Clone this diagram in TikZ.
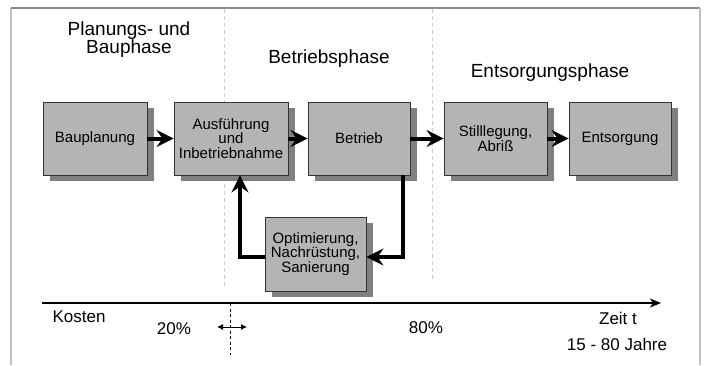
\documentclass[tikz,border=0pt]{standalone}
\usepackage{fontspec}
\setmainfont{Liberation Sans}
\usetikzlibrary{arrows.meta,shadows}
\definecolor{boxfill}{HTML}{B4B4B4}
\definecolor{shadowc}{HTML}{808080}
\definecolor{boxline}{HTML}{333333}
\tikzset{
  stepbox/.style={draw=boxline, line width=0.9pt, fill=boxfill, align=center,
    inner sep=0.5pt, font=\fontsize{15}{14.5}\selectfont,
    drop shadow={shadow xshift=7pt, shadow yshift=-6pt, fill=shadowc, opacity=1}},
  flow/.style={line width=4pt, -{Stealth[length=17pt,width=17pt,inset=6pt]}},
  phase/.style={align=center, font=\fontsize{19}{18}\selectfont},
  lbl/.style={font=\fontsize{17}{17}\selectfont},
  sep/.style={draw=black!20, line width=1pt, dash pattern=on 4pt off 3pt},
  frame/.style={line width=1.5pt}
}
\begin{document}
\begin{tikzpicture}[x=1pt,y=-1pt]
\useasboundingbox (0,0) rectangle (706,365);
% frame
\draw[frame, draw=black!25] (11,8) -- (11,365);
\draw[frame, draw=black!45] (11,8) -- (700,8);
\draw[frame, draw=black!25] (700,8) -- (700,365);
% phase separators
\draw[sep] (224,9) -- (224,286);
\draw[sep] (432,9) -- (432,280);
% phase titles
\node[phase] (t1) at (129,40) {Planungs- und\\Bauphase};
\node[phase] (t2) at (329,59) {Betriebsphase};
\node[phase] (t3) at (550,73) {Entsorgungsphase};
% boxes
\node[stepbox, minimum width=104pt, minimum height=73pt] (plan) at (95,138.5) {Bauplanung};
\node[stepbox, minimum width=114pt, minimum height=73pt] (ausf) at (231,138.5) {Ausführung\\und\\Inbetriebnahme};
\node[stepbox, minimum width=102pt, minimum height=73pt] (betr) at (359,138.5) {Betrieb};
\node[stepbox, minimum width=103pt, minimum height=73pt] (still) at (495.5,138.5) {Stilllegung,\\Abriß};
\node[stepbox, minimum width=102pt, minimum height=73pt] (ents) at (620,138.5) {Entsorgung};
\node[stepbox, minimum width=101pt, minimum height=74pt] (opt) at (315.5,254) {Optimierung,\\Nachrüstung,\\Sanierung};
% flow arrows
\draw[flow] (plan.east) -- (ausf.west);
\draw[flow] (ausf.east) -- (betr.west);
\draw[flow] (betr.east) -- (still.west);
\draw[flow] (still.east) -- (ents.west);
\coordinate (lp1) at (403,257);
\coordinate (lp2) at (240,257);
\draw[flow] (betr.south -| lp1) |- (opt.east |- lp1);
\draw[flow] (opt.west |- lp2) -| (ausf.south -| lp2);
% time axis
\coordinate (ax0) at (42,303);
\coordinate (ax1) at (661,303);
\draw[line width=1.5pt, -{Stealth[length=11pt,width=9pt,inset=3pt]}] (ax0) -- (ax1);
\node[lbl] (kost) at (79,317) {Kosten};
\node[lbl] (p20) at (174,329) {20\%};
\node[lbl] (p80) at (426,328) {80\%};
\node[lbl] (zeit) at (618,318) {Zeit t};
\node[lbl] (jahre) at (617,344) {15 - 80 Jahre};
\coordinate (d0) at (230,303);
\coordinate (d1) at (230,355);
\draw[line width=0.8pt, dash pattern=on 3pt off 2.5pt] (d0) -- (d1);
\coordinate (h0) at (217,327);
\coordinate (h1) at (247,327);
\draw[line width=0.9pt, {Latex[length=6pt,width=6pt]}-{Latex[length=6pt,width=6pt]}] (h0) -- (h1);
\end{tikzpicture}
\end{document}
